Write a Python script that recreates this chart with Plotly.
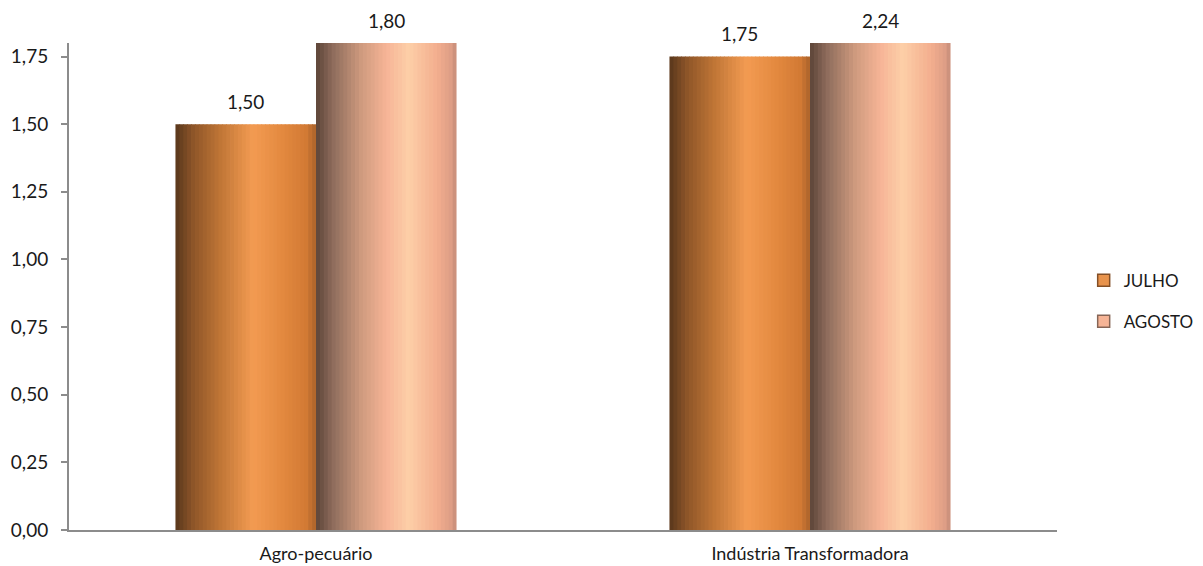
import plotly.graph_objects as go

categories = ["Agro-pecuário", "Indústria Transformadora"]
julho = [1.50, 1.75]
agosto = [1.80, 2.24]
series_names = ["JULHO", "AGOSTO"]
y_ticks = [0, 0.25, 0.5, 0.75, 1.0, 1.25, 1.5, 1.75]
y_max = 1.80

# horizontal shading profiles (position fraction, colour) imitating the 3D cylinder look
julho_profile = [(0.0, (88, 55, 28)), (0.12, (140, 84, 40)), (0.32, (192, 118, 54)),
                 (0.55, (243, 155, 82)), (0.75, (228, 138, 64)), (0.93, (210, 122, 52)),
                 (1.0, (170, 98, 42))]
agosto_profile = [(0.0, (92, 68, 56)), (0.12, (142, 108, 92)), (0.32, (206, 154, 126)),
                  (0.5, (246, 180, 150)), (0.66, (253, 207, 168)), (0.86, (243, 174, 142)),
                  (0.96, (222, 158, 134)), (1.0, (196, 140, 120))]


def colour_at(profile, t):
    for (t0, c0), (t1, c1) in zip(profile[:-1], profile[1:]):
        if t0 <= t <= t1:
            f = (t - t0) / (t1 - t0) if t1 > t0 else 0
            return "rgb(%d,%d,%d)" % tuple(round(a + (b - a) * f) for a, b in zip(c0, c1))
    return "rgb(%d,%d,%d)" % profile[-1][1]


bar_w = 0.2845  # width of one bar in category units
n_strips = 36
fig = go.Figure()

for s_idx, (vals, prof) in enumerate([(julho, julho_profile), (agosto, agosto_profile)]):
    start = -bar_w if s_idx == 0 else 0.0
    sw = bar_w / n_strips
    for i in range(n_strips):
        t = (i + 0.5) / n_strips
        fig.add_trace(go.Bar(
            x=categories, y=vals,
            offset=start + i * sw, width=sw * 1.2 if i < n_strips - 1 else sw,
            marker=dict(color=colour_at(prof, t), line=dict(width=0)),
            showlegend=False, hoverinfo="skip",
        ))

# legend entries
for name, prof, grp in [(series_names[0], julho_profile, "a"), (series_names[1], agosto_profile, "b")]:
    fig.add_trace(go.Bar(
        x=[None], y=[None], name=name, legendgroup=grp,
        marker=dict(color=colour_at(prof, 0.5), line=dict(color=colour_at(prof, 0.1), width=1.5)),
    ))

# value labels
annotations = []
for s_idx, vals in enumerate([julho, agosto]):
    centre = -bar_w / 2 if s_idx == 0 else bar_w / 2
    for c_idx, v in enumerate(vals):
        annotations.append(dict(
            x=c_idx + centre, y=min(v, y_max), xref="x", yref="y",
            text=("%.2f" % v).replace(".", ","), showarrow=False,
            yanchor="middle", yshift=23,
            font=dict(family="Lato, sans-serif", size=19, color="#1a1a1a"),
        ))

fig.update_layout(
    barmode="overlay",
    width=1203, height=566,
    margin=dict(l=69, r=146, t=43, b=36, autoexpand=False),
    paper_bgcolor="white", plot_bgcolor="white",
    separators=",.",
    font=dict(family="Lato, sans-serif", size=19, color="#1a1a1a"),
    annotations=annotations,
    legend=dict(x=1.027, y=0.47, xanchor="left", yanchor="middle",
                font=dict(size=17), tracegroupgap=16, itemwidth=30,
                bgcolor="rgba(0,0,0,0)"),
    xaxis=dict(
        type="category", range=[-0.5, 1.5], showgrid=False,
        showline=True, linecolor="#8c8c8c", linewidth=2,
        ticks="outside", ticklen=6, tickcolor="rgba(0,0,0,0)",
        tickfont=dict(size=18),
        zeroline=False, automargin=False,
    ),
    yaxis=dict(
        range=[0, y_max], tickvals=y_ticks, tickformat=".2f",
        showgrid=False, zeroline=False,
        showline=True, linecolor="#8c8c8c", linewidth=2,
        ticks="outside", ticklen=6, tickcolor="#8c8c8c", tickwidth=1.5,
        ticklabelstandoff=9, automargin=False,
    ),
)

fig.write_html("out.html", config={"displayModeBar": False},
               post_script="document.body.style.margin='0';")
